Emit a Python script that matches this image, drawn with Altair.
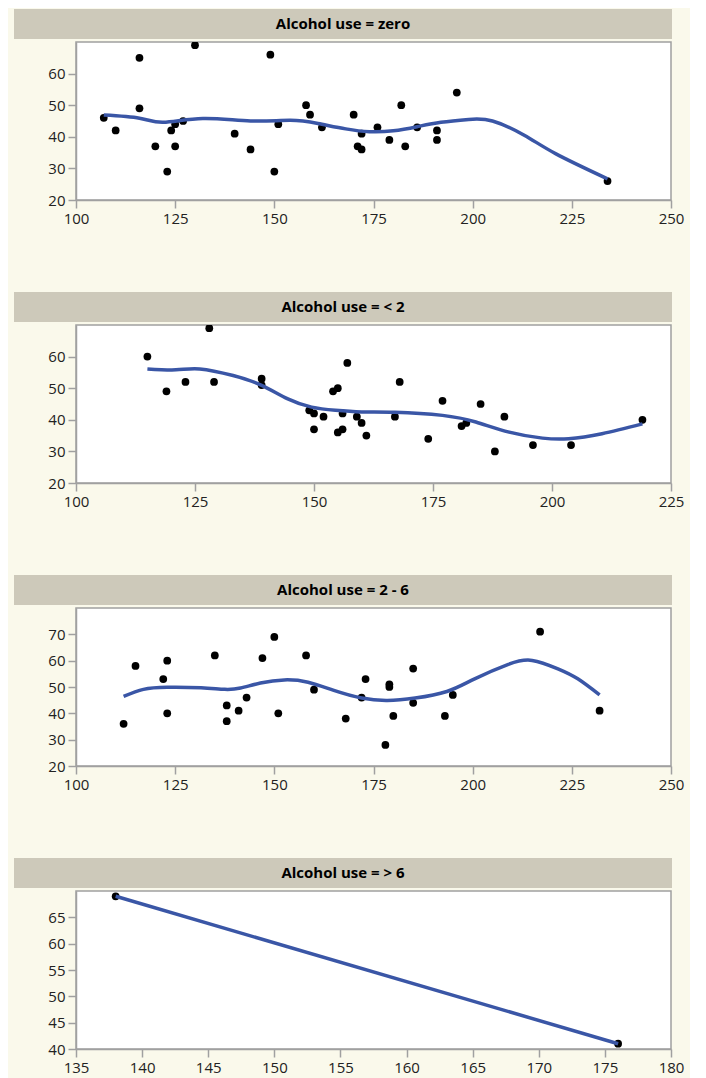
import altair as alt
import pandas as pd

BG = "#FAF9EB"
HEADER = "#CDC9BA"
BLUE = "#3A56A6"
GREY = "#A0A0A0"
FONT = "Open Sans"

titles = ["Alcohol use = zero", "Alcohol use = < 2", "Alcohol use = 2 - 6", "Alcohol use = > 6"]

# Panel 1: zero
p1_x = [107, 110, 116, 116, 120, 123, 124, 125, 125, 127, 130, 140, 144, 149, 150, 151,
        158, 159, 162, 170, 171, 172, 172, 176, 179, 182, 183, 186, 191, 191, 196, 234]
p1_y = [46, 42, 65, 49, 37, 29, 42, 44, 37, 45, 69, 41, 36, 66, 29, 44,
        50, 47, 43, 47, 37, 41, 36, 43, 39, 50, 37, 43, 42, 39, 54, 26]
c1_x = [107, 116, 122, 132, 144, 154, 161, 168, 174, 180, 186, 192, 199, 205, 213, 221, 234]
c1_y = [46.9, 45.9, 44.6, 45.8, 45.0, 45.2, 44.2, 42.5, 41.6, 41.9, 43.2, 44.6, 45.5, 45.0, 40.5, 34.6, 26.7]

# Panel 2: < 2
p2_x = [115, 119, 123, 128, 129, 139, 139, 149, 150, 150, 152, 154, 155, 155, 156, 156,
        157, 159, 160, 161, 167, 168, 174, 177, 181, 182, 185, 188, 190, 196, 204, 219]
p2_y = [60, 49, 52, 69, 52, 53, 51, 43, 42, 37, 41, 49, 50, 36, 42, 37,
        58, 41, 39, 35, 41, 52, 34, 46, 38, 39, 45, 30, 41, 32, 32, 40]
c2_x = [115, 121, 126, 133, 139, 144.5, 149.5, 154.5, 160, 167, 177, 184, 191, 198, 203.5, 210.5, 219]
c2_y = [56.1, 55.8, 56.1, 54.0, 50.9, 46.6, 44.0, 43.0, 42.5, 42.4, 41.4, 39.3, 36.1, 34.2, 34.0, 35.6, 38.7]

# Panel 3: 2 - 6
p3_x = [112, 115, 122, 123, 123, 135, 138, 138, 141, 143, 147, 150, 151, 158, 160, 168,
        172, 173, 178, 179, 179, 180, 185, 185, 193, 195, 217, 232]
p3_y = [36, 58, 53, 60, 40, 62, 43, 37, 41, 46, 61, 69, 40, 62, 49, 38,
        46, 53, 28, 51, 50, 39, 57, 44, 39, 47, 71, 41]
c3_x = [112, 117, 123, 131.5, 137.5, 141.5, 146.5, 152.5, 158.5, 165, 172, 178.5, 185.5,
        193.5, 200.5, 209, 215, 221.5, 226.5, 232]
c3_y = [46.4, 49.1, 49.9, 49.7, 49.1, 49.6, 51.5, 52.7, 51.8, 48.7, 45.8, 44.9, 45.8,
        48.3, 53.1, 58.6, 60.1, 56.9, 53.1, 47.0]

# Panel 4: > 6
p4_x = [138, 176]
p4_y = [69, 41]
c4_x = [138, 176]
c4_y = [69, 41]

x_ticks_1 = [100, 125, 150, 175, 200, 225, 250]
x_ticks_2 = [100, 125, 150, 175, 200, 225]
x_ticks_4 = [135, 140, 145, 150, 155, 160, 165, 170, 175, 180]
y_ticks_1 = [20, 30, 40, 50, 60]
y_ticks_3 = [20, 30, 40, 50, 60, 70]
y_ticks_4 = [40, 45, 50, 55, 60, 65]

W, H = 595, 158


def panel(title, px, py, cx, cy, xdom, xticks, ydom, yticks):
    xenc = alt.X("x:Q", scale=alt.Scale(domain=xdom, nice=False, zero=False),
                 axis=alt.Axis(values=xticks, title=None))
    yenc = alt.Y("y:Q", scale=alt.Scale(domain=ydom, nice=False, zero=False),
                 axis=alt.Axis(values=yticks, title=None))
    head = pd.DataFrame({"t": [title]})
    rect = alt.Chart(head).mark_rect(color=HEADER).encode(
        x=alt.value(-62), x2=alt.value(W + 1), y=alt.value(-33), y2=alt.value(-3))
    txt = alt.Chart(head).mark_text(
        font=FONT, fontSize=15, fontWeight="bold", color="black",
        align="center", baseline="middle").encode(
        x=alt.value((W + 1 - 62) / 2), y=alt.value(-18), text="t:N")
    pts = alt.Chart(pd.DataFrame({"x": px, "y": py})).mark_circle(
        size=60, color="black", opacity=1, clip=True).encode(x=xenc, y=yenc)
    line = alt.Chart(pd.DataFrame({"x": cx, "y": cy})).mark_line(
        color=BLUE, strokeWidth=3.5, interpolate="natural", clip=True).encode(x=xenc, y=yenc)
    return alt.layer(rect, txt, pts, line).properties(width=W, height=H)


c1 = panel(titles[0], p1_x, p1_y, c1_x, c1_y, [100, 250], x_ticks_1, [20, 70], y_ticks_1)
c2 = panel(titles[1], p2_x, p2_y, c2_x, c2_y, [100, 225], x_ticks_2, [20, 70], y_ticks_1)
c3 = panel(titles[2], p3_x, p3_y, c3_x, c3_y, [100, 250], x_ticks_1, [20, 80], y_ticks_3)
c4 = panel(titles[3], p4_x, p4_y, c4_x, c4_y, [135, 180], x_ticks_4, [40, 70], y_ticks_4)

chart = alt.vconcat(c1, c2, c3, c4, spacing=125, bounds="flush").properties(
    background=BG,
    padding={"left": 5, "top": 0, "right": 5, "bottom": 5},
).configure_view(
    stroke=GREY, strokeWidth=1.5, fill="white"
).configure_axis(
    grid=False,
    domainColor=GREY,
    domainWidth=1.5,
    tickColor=GREY,
    tickWidth=1.5,
    tickSize=8,
    labelFont=FONT,
    labelFontSize=15,
    labelColor="#222222",
    labelPadding=3,
    labelFlush=False,
    labelOverlap=False,
)

chart.save("out.html", embed_options={"renderer": "svg", "actions": False})
